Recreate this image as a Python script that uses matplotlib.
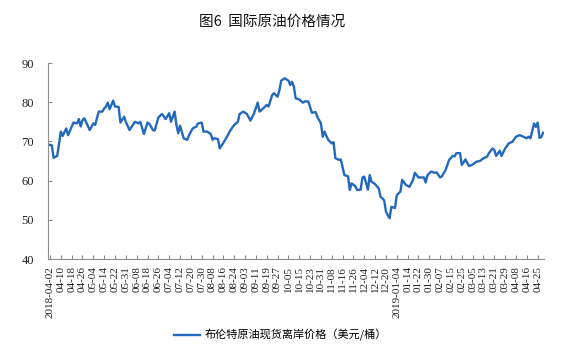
import numpy as np
import matplotlib
matplotlib.use('Agg')
import matplotlib.pyplot as plt

# trading-day index (0 = 2018-04-02) and Brent spot price (USD/bbl)
day_idx = [0, 1, 2, 4, 6, 7, 9, 10, 13, 15, 16, 17, 18, 19, 22, 24, 25, 27, 29, 30,
           31, 32, 33, 35, 36, 38, 39, 41, 42, 44, 47, 49, 50, 52, 54, 55, 57, 58, 60, 62,
           64, 66, 67, 69, 70, 71, 72, 74, 76, 77, 79, 81, 82, 84, 85, 87, 89, 90, 91, 93,
           94, 97, 100, 102, 104, 105, 107, 109, 111, 113, 115, 116, 118, 120, 121, 123, 124, 126, 127, 128,
           129, 130, 132, 133, 134, 135, 136, 138, 140, 141, 143, 145, 147, 148, 150, 151, 152, 154, 156, 157,
           158, 160, 161, 163, 165, 166, 167, 169, 170, 172, 173, 174, 176, 177, 178, 180, 182, 183, 185, 186,
           187, 188, 189, 191, 192, 194, 195, 197, 199, 201, 202, 204, 206, 207, 208, 209, 211, 213, 214, 216,
           217, 219, 221, 223, 224, 225, 227, 228, 230, 232, 234, 236, 238, 240, 242, 243, 245, 246, 247, 249,
           250, 252, 254, 256, 258, 260, 262, 264, 265, 266, 268, 269, 270, 271, 272, 273]
price = [69.1, 69.0, 65.8, 66.3, 72.5, 71.4, 73.3, 71.6, 74.8, 74.6, 75.7, 73.8, 75.4, 75.9, 72.9, 74.6, 74.2, 77.6, 77.6, 78.4,
         78.9, 79.9, 78.2, 80.4, 78.9, 78.8, 74.8, 76.3, 75.0, 72.9, 75.0, 74.6, 75.0, 71.9, 74.8, 74.5, 72.9, 72.8, 76.1, 77.0,
         75.7, 77.2, 75.0, 77.6, 74.2, 72.1, 74.0, 70.8, 70.4, 71.6, 73.3, 73.8, 74.6, 74.8, 72.5, 72.5, 71.9, 70.4, 70.8, 70.6,
         68.2, 70.4, 72.9, 74.2, 75.0, 77.0, 77.6, 77.0, 75.3, 77.2, 79.9, 77.6, 78.4, 79.3, 78.9, 81.8, 82.3, 81.4, 83.0, 85.5,
         85.8, 86.1, 85.5, 84.4, 85.2, 84.0, 81.0, 80.7, 79.9, 80.2, 80.2, 77.3, 77.5, 76.3, 74.6, 71.2, 72.5, 70.4, 69.5, 69.8,
         65.7, 65.3, 65.4, 61.4, 61.1, 57.6, 59.3, 58.6, 57.6, 57.7, 60.8, 61.0, 57.7, 61.4, 59.7, 59.1, 58.0, 55.9, 55.0, 52.1,
         51.2, 50.4, 53.3, 53.0, 56.3, 57.2, 60.2, 58.9, 58.4, 60.2, 62.0, 60.8, 60.8, 60.8, 59.5, 61.4, 62.3, 62.0, 62.1, 60.8,
         61.1, 62.7, 65.3, 66.3, 66.2, 67.0, 67.0, 64.0, 65.4, 63.7, 64.1, 64.8, 65.0, 65.7, 66.1, 67.0, 68.2, 67.8, 66.3, 67.6,
         66.3, 68.2, 69.5, 69.9, 71.2, 71.6, 71.2, 70.8, 71.2, 70.8, 74.6, 73.7, 74.8, 70.9, 71.1, 72.2]

tick_labels = ['2018-04-02', '04-10', '04-18', '04-26', '05-04', '05-14', '05-22', '05-31',
               '06-08', '06-18', '06-26', '07-04', '07-12', '07-20', '07-30', '08-08',
               '08-16', '08-24', '09-03', '09-11', '09-19', '09-27', '10-05', '10-15',
               '10-23', '10-31', '11-08', '11-16', '11-26', '12-04', '12-12', '12-20',
               '2019-01-04', '01-14', '01-22', '01-30', '02-07', '02-15', '02-25', '03-05',
               '03-13', '03-21', '03-29', '04-08', '04-16', '04-25']
tick_step = 6

cjk = ['Noto Sans CJK SC', 'DejaVu Sans']
serif = 'Liberation Serif'
axis_grey = '#8c8c8c'

fig = plt.figure(figsize=(5.61, 3.57), dpi=100)
ax = fig.add_axes([48 / 561, 1 - 259 / 357, (544 - 48) / 561, (259 - 63) / 357])

ax.plot(day_idx, price, color='#2368BF', linewidth=1.7,
        label='布伦特原油现货离岸价格（美元/桶）')

ax.set_ylim(40, 90)
ax.set_yticks(range(40, 91, 10))
ax.set_xlim(-1.1, 273.5)
ax.set_xticks([i * tick_step for i in range(len(tick_labels))])
ax.set_xticklabels(tick_labels, rotation=90, fontfamily=serif, fontsize=8)
for lbl in ax.get_yticklabels():
    lbl.set_fontfamily(serif)
    lbl.set_fontsize(9)

for s in ['top', 'right']:
    ax.spines[s].set_visible(False)
for s in ['left', 'bottom']:
    ax.spines[s].set_color(axis_grey)
    ax.spines[s].set_linewidth(0.8)
ax.tick_params(axis='y', direction='in', length=3, color=axis_grey, pad=10, labelcolor='#222222')
ax.tick_params(axis='x', direction='in', length=3, color=axis_grey, pad=5, labelcolor='#222222')

fig.text(0.485, 1 - 22 / 357, '图6  国际原油价格情况', ha='center', va='center',
         family=cjk, fontsize=10.5, color='#111111')

fig.legend(loc='center', bbox_to_anchor=(0.5, 1 - 335 / 357), frameon=False,
           prop={'family': cjk, 'size': 8}, handlelength=2.3, handletextpad=0.4)

fig.savefig('out.png', dpi=100)
